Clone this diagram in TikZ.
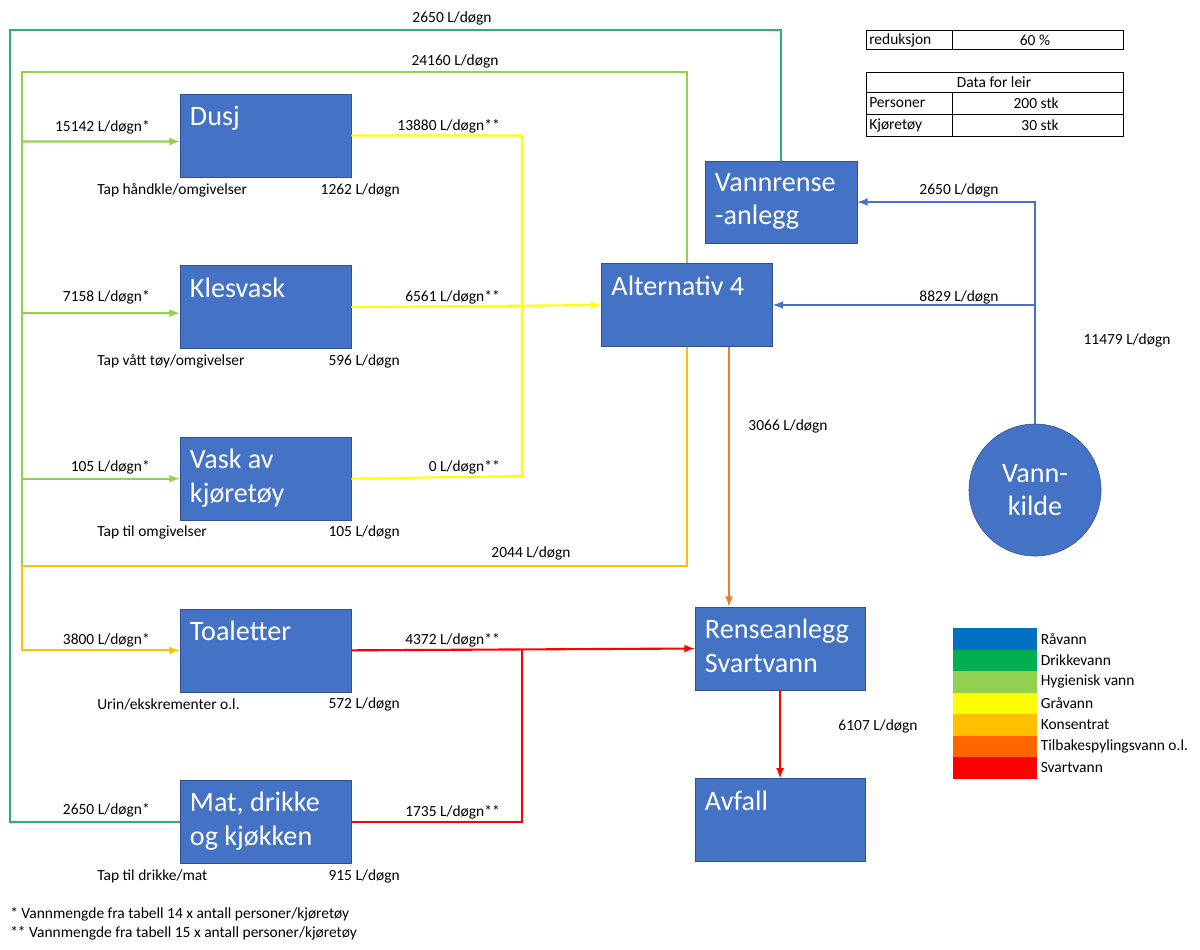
\documentclass[tikz,border=0pt]{standalone}
\usepackage{fontspec}
\setmainfont{Carlito}
\usepackage{tikz}
\usetikzlibrary{arrows,shapes,positioning}
\definecolor{dfbox}{RGB}{68,114,196}
\definecolor{dfborder}{RGB}{47,82,143}
\definecolor{dfraa}{RGB}{0,112,192}
\definecolor{dfdrikke}{RGB}{0,176,80}
\definecolor{dfdrikkeline}{RGB}{38,180,110}
\definecolor{dfhygien}{RGB}{146,208,80}
\definecolor{dfgraa}{RGB}{255,255,0}
\definecolor{dfkons}{RGB}{255,192,0}
\definecolor{dftilbake}{RGB}{255,102,0}
\definecolor{dftilbakeline}{RGB}{237,125,49}
\definecolor{dfsvart}{RGB}{255,0,0}
\tikzstyle{unit} = [rectangle, minimum width=4.275cm, minimum height=2.075cm, draw=dfborder, fill=dfbox, thin]
\tikzstyle{unittext} = [anchor=north west, text=white, font=\fontsize{20}{24}\selectfont, align=left, inner xsep=0.25cm, inner ysep=0.3cm]
\tikzstyle{flow} = [font=\fontsize{11}{13}\selectfont, inner sep=0pt]
\tikzstyle{pipe} = [line width=1.5pt, >=latex]
\tikzstyle{swatch} = [rectangle, minimum width=2.1cm, minimum height=0.5375cm, inner sep=0pt]

\begin{document}
\begin{tikzpicture}[x=0.025cm, y=-0.025cm, node distance=2.2cm]
    \useasboundingbox (0,0) rectangle (1200,949);

    \node[unit, label={[unittext]north west:Dusj}] (dusj) at (265.5,135.5) {};
    \node[unit, below=of dusj, label={[unittext]north west:Klesvask}] (klesvask) {};
    \node[unit, below=of klesvask, label={[unittext]north west:Vask av\\kjøretøy}] (vask) {};
    \node[unit, below=of vask, label={[unittext]north west:Toaletter}] (toaletter) {};
    \node[unit, below=of toaletter, label={[unittext]north west:Mat, drikke\\og kjøkken}] (mat) {};

    \node[unit, label={[unittext]north west:Alternativ 4}] (alternativ) at (687,305) {};
    \node[unit, minimum width=3.8cm, minimum height=2.05cm, label={[unittext]north west:Vannrense\\-anlegg}] (vannrense) at (781,202) {};
    \node[unit, minimum width=4.25cm, label={[unittext]north west:Renseanlegg\\Svartvann}] (renseanlegg) at (780,648.5) {};
    \node[unit, minimum width=4.25cm, below=of renseanlegg, label={[unittext]north west:Avfall}] (avfall) {};
    \node[circle, draw=dfborder, fill=dfbox, thin, minimum size=3.3cm, text=white, align=center,
          font=\fontsize{20}{24}\selectfont] (kilde) at (1035,490) {Vann-\\kilde};

    % Drikkevann
    \coordinate (dvcorner) at (10,30);
    \draw[pipe, dfdrikkeline] (vannrense.north) |- (dvcorner) |- (mat.west);

    % Hygienisk vann
    \coordinate (hycorner) at (22,72);
    \coordinate (hyend) at (22,566);
    \draw[pipe, dfhygien] (alternativ.north) |- (hycorner) -- (hyend);
    \draw[pipe, dfhygien, ->] (hycorner |- dusj.west) ++(0,6) -- ([yshift=-0.15cm]dusj.west);
    \draw[pipe, dfhygien, ->] (hycorner |- klesvask.west) ++(0,6) -- ([yshift=-0.15cm]klesvask.west);
    \draw[pipe, dfhygien, ->] (hycorner |- vask.west) -- (vask.west);

    % Konsentrat
    \draw[pipe, dfkons, ->] (alternativ.south) |- (hyend) |- (toaletter.west);

    % Gråvann
    \coordinate (grcorner) at (522,476);
    \draw[pipe, dfgraa] (dusj.east) -| (grcorner) -- (vask.east);
    \draw[pipe, dfgraa, ->] (klesvask.east) -- (alternativ.west);

    % Råvann
    \draw[pipe, dfbox, ->] (kilde.north) |- (vannrense.east);
    \draw[pipe, dfbox, ->] (kilde.north |- alternativ.east) -- (alternativ.east);

    % Tilbakespylingsvann
    \draw[pipe, dftilbakeline, ->] ([xshift=1.05cm]alternativ.south) -- ([xshift=1.05cm]alternativ.south |- renseanlegg.north);

    % Svartvann
    \coordinate (svcorner) at (522,648.5);
    \draw[pipe, dfsvart, ->] (toaletter.east) -- (renseanlegg.west);
    \draw[pipe, dfsvart] (mat.east) -| (svcorner);
    \draw[pipe, dfsvart, ->] (renseanlegg.south) -- (avfall.north);

    % Mengder
    \node[flow] (qdrikke) at (452,18) {2650 L/døgn};
    \node[flow] (qhygien) at (455,61) {24160 L/døgn};
    \node[flow] (qkons) at (531,553) {2044 L/døgn};
    \node[flow] (qrense) at (959,190) {2650 L/døgn};
    \node[flow] (qalt) at (959,297) {8829 L/døgn};
    \node[flow] (qkilde) at (1127,340) {11479 L/døgn};
    \node[flow] (qtilbake) at (788,426) {3066 L/døgn};
    \node[flow] (qavfall) at (878,726) {6107 L/døgn};

    \node[flow, anchor=east] (indusj) at (150,127) {15142 L/døgn*};
    \node[flow, anchor=east] (inkles) at (150,297) {7158 L/døgn*};
    \node[flow, anchor=east] (invask) at (150,467) {105 L/døgn*};
    \node[flow, anchor=east] (intoal) at (150,640) {3800 L/døgn*};
    \node[flow, anchor=east] (inmat) at (150,810) {2650 L/døgn*};

    \node[flow, anchor=east] (utdusj) at (500,126) {13880 L/døgn**};
    \node[flow, anchor=east] (utkles) at (500,297) {6561 L/døgn**};
    \node[flow, anchor=east] (utvask) at (500,467) {0 L/døgn**};
    \node[flow, anchor=east] (uttoal) at (500,640) {4372 L/døgn**};
    \node[flow, anchor=east] (utmat) at (500,812) {1735 L/døgn**};

    \node[flow, anchor=west] (tapdusj) at (97,190) {Tap håndkle/omgivelser};
    \node[flow, anchor=west] (tapkles) at (97,361) {Tap vått tøy/omgivelser};
    \node[flow, anchor=west] (tapvask) at (97,532) {Tap til omgivelser};
    \node[flow, anchor=west] (taptoal) at (97,704) {Urin/ekskrementer o.l.};
    \node[flow, anchor=west] (tapmat) at (97,876) {Tap til drikke/mat};
    \node[flow, anchor=east] (mdusj) at (400,190) {1262 L/døgn};
    \node[flow, anchor=east] (mkles) at (400,361) {596 L/døgn};
    \node[flow, anchor=east] (mvask) at (400,532) {105 L/døgn};
    \node[flow, anchor=east] (mtoal) at (400,704) {572 L/døgn};
    \node[flow, anchor=east] (mmat) at (400,876) {915 L/døgn};

    \node[flow, anchor=west] (note1) at (10,914) {* Vannmengde fra tabell 14 x antall personer/kjøretøy};
    \node[flow, anchor=west] (note2) at (10,933) {** Vannmengde fra tabell 15 x antall personer/kjøretøy};

    % Tabeller
    \draw[line width=0.6pt] (866,30) rectangle (1123,49) (952,30) -- (952,49);
    \node[flow, anchor=west] (reduksjon) at (869,40) {reduksjon};
    \node[flow] (prosent) at (1035,40) {60 \%};
    \draw[line width=0.6pt] (866,72) rectangle (1123,136) (866,92) -- (1123,92) (866,114) -- (1123,114) (952,92) -- (952,136);
    \node[flow] (leir) at (994,82) {Data for leir};
    \node[flow, anchor=west] (personer) at (869,103) {Personer};
    \node[flow, anchor=east] (npersoner) at (1059,103) {200 stk};
    \node[flow, anchor=west] (kjoretoy) at (869,125) {Kjøretøy};
    \node[flow, anchor=east] (nkjoretoy) at (1059,125) {30 stk};

    % Fargeforklaring
    \foreach \col/\txt [count=\i] in {dfraa/Råvann, dfdrikke/Drikkevann, dfhygien/Hygienisk vann, dfgraa/Gråvann,
                                      dfkons/Konsentrat, dftilbake/Tilbakespylingsvann o.l., dfsvart/Svartvann} {
        \node[swatch, fill=\col] (sw\i) at (995,617.25+\i*21.5) {};
        \node[flow, anchor=west] (lg\i) at ([xshift=0.08cm]sw\i.east) {\txt};
    }
\end{tikzpicture}
\end{document}
